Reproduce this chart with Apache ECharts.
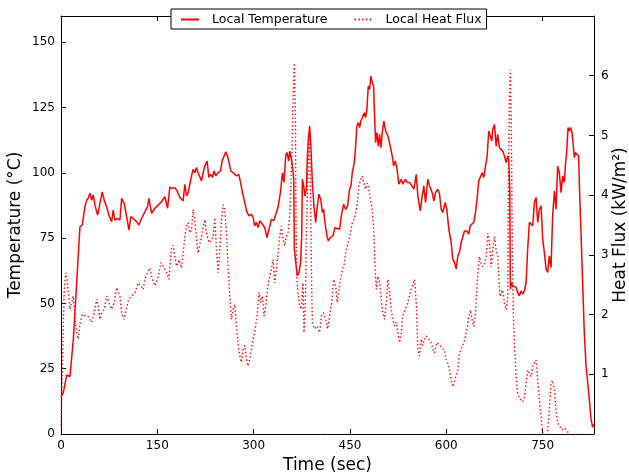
<!DOCTYPE html>
<html>
<head>
<meta charset="utf-8">
<script src="https://cdn.jsdelivr.net/npm/echarts@6/dist/echarts.min.js"></script>
<style>html,body{margin:0;padding:0;background:#fff}#c{width:629px;height:474px}</style>
</head>
<body>
<div id="c"></div>
<script>
// Time (sec) and local temperature (°C)
var tempTime = [
0,3.6,8.9,14,16.6,19.1,24.4,29.5,33.1,37.3,
40,42.5,45.1,47.7,50.2,52.9,57.1,60.7,64.2,67.3,
71.1,74.6,78.8,81.3,84,88.2,91.8,94.4,98.4,102.2,
105.8,108.9,112.4,117.7,121.3,125.5,130.6,134.8,136.9,141.1,
146.2,151.3,156.6,161.7,165.9,169.5,173.1,177.3,180.9,185.1,
190.2,192.8,195.5,198,200.6,203.3,205.7,208.4,211,213.5,
216.2,218.8,221.3,224,227.5,230.2,232.8,235.9,238.4,241,
244.6,248.4,250.9,253.5,256.6,259.2,261.7,264.4,268,273.2,
276.8,279.5,282.6,286.2,289.7,292.8,296.6,299.1,301.7,304.4,
306.8,309.5,313.7,317.3,320.8,323.9,327.7,331.3,334.4,337.9,
341.7,344.8,347.3,349.9,351.9,354.6,356.1,358.8,360.3,362.4,
363.4,365.5,368.1,370.6,373.2,374.8,375.9,377.9,379.9,382.1,
383.7,385.2,387.2,389.3,391.4,393.9,396.6,399.2,401.7,404.4,
407,409,411,414.2,416.3,419.4,423.5,426.6,429.7,433.9,
436.5,440.1,443.2,446.3,449.4,451.5,453.6,456.8,458.8,460.8,
463,465,467,470.1,472.3,474.3,476.4,478.5,480.6,482.6,
484.8,486.8,488.3,489.9,491.9,494.1,496.1,498.1,500.3,502.8,
505.4,509,512.7,515.8,517.9,520.5,523,526.1,529.8,532.3,
536.1,539.2,542.8,546.3,549.5,553.2,555.7,559.4,562.5,565,
567.6,571.2,573.9,578,580.6,583.2,586.8,589.4,592,594.5,
598.3,600.8,603.9,607.6,610.1,612.7,615.4,617.9,620.5,623.2,
625.6,628.3,631.9,635,637.2,640.3,642.8,645.4,648,650.5,
653.2,655.8,658.3,661,663.6,666.1,668.3,670.8,672.3,675,
677.6,680.1,682.7,685.4,687.9,690.5,693.2,695.7,697.2,698.8,
699.8,701.4,703.4,706.1,708.7,711.2,713.8,716.5,719,721.6,
724.3,726.7,729.4,732,734.5,737.2,739.8,742.3,744.9,747.6,
750.1,752.7,755.4,757.9,760.5,763.1,765.6,768.3,770.9,773.4,
776,778.7,781.2,783.8,785.4,787.4,789.6,791.6,793.6,795.8,
797.8,799.4,800.9,803.6,806.1,807.6,809.8,812.3,814.9,817.6,
820.1,822.7,825.3,827.8,830
];
var tempValues = [
14.3,15.7,22.6,22,22.6,36,57.8,79.3,80,87,
89.5,90.3,92.2,89.5,91.5,87.6,83.8,88.4,92.7,89.5,
87,83.8,81.3,85.7,81.9,82.5,81.9,90.2,88.3,83.2,
78,83.2,82.5,81.3,80,82.5,85,87,90.2,84.5,
86.4,87.6,88.9,90.8,86.4,94.5,94,94.3,93,90.5,
89.2,95.6,91.1,92.4,91.8,98.8,101.3,100,102,100,
100.7,96.9,100,102.6,104.5,98.2,99.4,98.2,100.7,98.8,
100,100.7,104.5,105.2,108,106.4,103.9,100.7,100,98.8,
99.4,96.3,92.4,88.6,84.8,83.5,84.1,82.9,79.7,81,
79,81.6,80.3,79,75.2,78.4,82.2,81.6,81,86.7,
92.4,100,96.3,106.4,107.7,104.5,108.3,105.2,102.6,97.5,
70.7,65.7,60.5,61.8,65.7,75.8,97.5,95,91.1,93.7,
106.4,112.8,117.9,109,96.3,87.3,81,87.3,91.8,89.9,
84.8,86,81,75.8,73.9,75.2,75.8,79,79.7,78.4,
83.5,88,86,87.3,93.7,95,100,103.9,110.2,117.9,
119.2,117.3,119.8,120.5,123,121.1,124.3,133.2,131.9,137,
134.5,133.2,121.7,111.5,115.4,110.2,114.7,109.6,115.4,119.8,
116,114.1,110.2,106.4,102.6,104.5,102,95.6,97.5,95.6,
97.5,96.3,96.3,95,93.7,99.4,91.1,85.4,91.1,95,
88.6,97.5,95,92.4,89.2,92.4,93.7,92,86,84.8,
88.6,86,78.4,73.3,66.9,65.7,63.1,68.2,69.5,73.3,
73.9,77.7,77.7,76.5,79.7,80.3,81,84.8,89.9,96.9,
97.5,100,98.2,98.8,106.4,116,115.4,112.2,116.6,118.5,
110.2,114.7,109.6,109,108.3,106.4,103.9,106.4,105.2,93.7,
55.4,58,56.7,57.4,56.1,54.2,52.9,54.8,53.5,54.8,
58,70.7,81,80.3,79.7,88.6,90.5,81,86,87.3,
74.6,69.5,63.1,61.8,68.2,63.7,83.5,93,86,102.6,
100,92.4,98.8,96.3,102.6,107.7,117.3,116,117.3,115.4,
110.2,105.8,107.7,107.1,106.4,92.4,77.1,58,38.9,26.1,
19.8,13.4,5.7,2.6,3.8
];
// Time (sec) and local heat flux (kW/m2)
var fluxTime = [
0,2,3.6,5.1,7.3,9.3,11.4,14,16.6,19.1,
21.8,24.4,26.9,29.5,33.1,37.3,41.5,44,47.7,51.8,
55.5,58,60.7,63.3,67.3,71.1,74.6,78.8,82.9,86.6,
89.1,91.8,94.4,98,102.2,105.8,110,115.1,120.2,124.4,
128,130.6,134.8,138.4,142,146.2,150.4,155.5,159.1,164.4,
168,172.2,174.6,177.3,179.9,184,187.7,190.2,192.8,195.5,
198,200.6,203.3,205.7,208.4,211,213.5,216.2,218.8,221.3,
224,226.6,229.1,231.7,234.4,236.9,239.5,242.1,244.6,247.3,
249.9,252.4,255,257.7,260.2,262.8,265.5,268,270.6,273.2,
275.7,278.4,281,283.5,286.2,288.8,291.3,293.9,296.6,299.1,
301.7,305.3,308.4,311,313.7,316.2,318.8,321.5,324,327.7,
330.2,332.8,335.5,338.6,340.6,343.2,345.7,348.4,351,353.5,
356.1,358.2,359.7,361.3,363.4,365,365.9,367,369,371.7,
374.3,376.8,378.4,380.6,382.1,384.1,386.2,388.3,389.9,391.4,
395,398.6,402.8,405.4,409,412.1,415.2,418.3,421.5,424.6,
427.7,430.3,432.8,435.4,438.1,440.6,443.2,445.9,448.4,451,
453.6,456.1,458.8,461.4,463.9,466.6,469.2,471.7,474.3,477,
479.5,481.6,484.1,486.8,488.8,491,493.5,496.1,498.7,501.2,
503.9,506.5,509,511.6,514.3,516.8,519.4,522.1,524.6,527.2,
529.8,532.3,536.1,540.1,543.8,547,550.5,553.2,555.7,558.3,
561,563.5,566.1,568.7,572.8,576.5,579,581.6,585.2,589.4,
593.6,597.2,599.8,602.3,605,607.6,610.1,612.7,615.4,617.9,
620.5,624.7,628.3,631.9,635,637.6,640.3,642.8,645.4,647.4,
649.6,651.6,654.3,656.8,659.4,662.1,664.5,667.2,669.8,672.3,
675,677.6,680.1,681.7,683.8,685.8,687.9,690.5,693.2,695.7,
696.7,698.3,699.8,701.4,702.9,704.5,706.5,708.7,711.2,713.8,
716.5,719,721.6,724.3,726.7,729.4,732,734.5,737.2,739.8,
742.3,744.9,747.6,750.1,754.3,760.5,763.1,765.6,768.3,770.9,
773.4,777.1,780.2,783.8,787.4,790.5,794.7,802,805
];
var fluxValues = [
0.14,1.03,1.81,2.42,2.7,2.59,2.37,2.09,2.2,2.31,
1.92,1.7,1.59,1.84,2.0,1.98,1.98,2.0,1.87,2.03,
2.26,2.14,1.92,2.03,2.09,2.31,2.2,2.09,2.2,2.45,
2.48,2.31,2.03,1.92,2.12,2.26,2.31,2.37,2.53,2.48,
2.42,2.59,2.7,2.78,2.59,2.48,2.59,2.87,2.81,2.7,
2.59,3.12,3.16,2.98,2.81,2.92,2.78,3.03,3.31,3.48,
3.54,3.37,3.42,3.76,3.59,3.26,3.03,3.17,3.31,3.45,
3.59,3.37,3.26,3.2,3.26,3.31,3.62,3.09,2.7,3.09,
3.59,3.84,3.76,3.37,2.81,2.31,1.92,2.09,2.17,1.81,
1.53,1.31,1.2,1.42,1.48,1.25,1.14,1.25,1.42,1.59,
1.7,1.98,2.37,2.2,2.31,1.98,2.14,2.42,2.59,2.76,
2.92,2.53,2.76,3.09,3.31,3.48,3.26,3.15,3.31,3.37,
3.65,4.2,4.76,5.6,6.21,5.32,3.65,2.64,2.37,2.14,
2.09,2.53,1.7,2.2,3.31,4.2,4.98,4.32,2.81,1.87,
1.76,1.81,1.7,1.98,2.03,1.92,1.76,1.98,2.2,2.59,
2.48,2.2,2.42,2.59,2.76,2.81,3.03,3.15,3.26,3.37,
3.54,3.59,3.7,3.87,4.15,4.26,4.32,4.2,4.1,4.2,
4.1,3.93,3.81,3.48,2.87,2.42,2.64,2.53,2.26,2.03,
1.92,2.2,2.59,2.37,2.09,1.92,1.81,1.87,1.7,1.53,
1.7,1.98,2.09,2.2,2.37,2.48,2.59,2.2,1.42,1.31,
1.59,1.48,1.59,1.64,1.59,1.53,1.42,1.36,1.53,1.5,
1.43,1.41,1.24,1.18,1.07,0.9,0.79,0.88,0.85,1.07,
1.35,1.46,1.57,1.74,1.96,2.08,1.91,1.8,2.02,2.41,
2.75,2.97,2.86,2.8,2.86,2.97,3.36,3.19,2.8,3.08,
3.3,3.08,2.97,2.63,2.3,2.36,2.41,2.19,2.08,2.3,
4.2,5.6,6.1,5.04,3.08,1.96,1.41,0.96,0.68,0.6,
0.57,0.54,0.62,0.85,1.07,1.02,0.96,1.13,1.18,1.24,
0.9,0.57,0.29,0.01,-0.4,0.4,0.85,0.9,0.74,0.4,
0.18,0.12,0.07,0.1,0.07,0.01,-0.1,0.02,-0.3
];
var timeTicks = [0, 150, 300, 450, 600, 750];
var tempTicks = [0, 25, 50, 75, 100, 125, 150];
var fluxTicks = [1, 2, 3, 4, 5, 6];

function zip(a, b) { var r = []; for (var i = 0; i < a.length && i < b.length; i++) r.push([a[i], b[i]]); return r; }

var FONT = 'DejaVu Sans';
var chart = echarts.init(document.getElementById('c'), null, { renderer: 'canvas' });
var tickCommon = { show: true, inside: true, length: 5, lineStyle: { color: '#000', width: 1 } };
var lineCommon = { show: true, onZero: false, lineStyle: { color: '#000', width: 1 } };
chart.setOption({
  animation: false,
  backgroundColor: '#fff',
  textStyle: { fontFamily: FONT },
  grid: { left: 61, right: 35, top: 16, bottom: 40, containLabel: false, outerBoundsMode: 'none' },
  legend: {
    left: 171, top: 9,
    padding: [4, 5, 3, 9],
    itemGap: 26, itemWidth: 18, itemHeight: 12,
    borderColor: '#000', borderWidth: 1, borderRadius: 0,
    backgroundColor: '#fff',
    itemStyle: { opacity: 0 },
    textStyle: { fontFamily: FONT, fontSize: 12.5, color: '#000', padding: [0, 0, 0, 8] },
    data: ['Local Temperature', 'Local Heat Flux'],
    z: 10
  },
  xAxis: [{
    type: 'value', position: 'bottom', min: 0, max: 830, interval: 150,
    name: 'Time (sec)', nameLocation: 'middle', nameGap: 23, nameMoveOverlap: false,
    nameTextStyle: { fontFamily: FONT, fontSize: 17, color: '#000' },
    axisLine: lineCommon, axisTick: tickCommon, splitLine: { show: false },
    axisLabel: { fontFamily: FONT, fontSize: 12, color: '#000', margin: 6,
      formatter: function (v) { return timeTicks.indexOf(v) >= 0 ? String(v) : ''; } }
  }, {
    type: 'value', position: 'top', min: 0, max: 830, interval: 150,
    axisLine: lineCommon, axisTick: tickCommon, splitLine: { show: false },
    axisLabel: { show: false }
  }],
  yAxis: [{
    type: 'value', position: 'left', min: 0, max: 160, interval: 25,
    name: 'Temperature (°C)', nameLocation: 'middle', nameGap: 37, nameRotate: 90, nameMoveOverlap: false,
    nameTextStyle: { fontFamily: FONT, fontSize: 17, color: '#000' },
    axisLine: lineCommon, axisTick: tickCommon, splitLine: { show: false },
    axisLabel: { fontFamily: FONT, fontSize: 12, color: '#000', margin: 6,
      formatter: function (v) { return tempTicks.indexOf(v) >= 0 ? String(v) : ''; } }
  }, {
    type: 'value', position: 'right', min: 0, max: 7, interval: 1,
    name: 'Heat Flux (kW/m²)', nameLocation: 'middle', nameGap: 18, nameRotate: 90, nameMoveOverlap: false,
    nameTextStyle: { fontFamily: FONT, fontSize: 17, color: '#000' },
    axisLine: lineCommon, axisTick: tickCommon, splitLine: { show: false },
    axisLabel: { fontFamily: FONT, fontSize: 12, color: '#000', margin: 7,
      formatter: function (v) { return fluxTicks.indexOf(v) >= 0 ? String(v) : ''; } }
  }],
  series: [{
    name: 'Local Temperature', type: 'line', xAxisIndex: 0, yAxisIndex: 0,
    data: zip(tempTime, tempValues), showSymbol: false, symbol: 'none', clip: true,
    lineStyle: { color: '#ff0000', width: 1.5 }, itemStyle: { color: '#ff0000' }
  }, {
    name: 'Local Heat Flux', type: 'line', xAxisIndex: 0, yAxisIndex: 1,
    data: zip(fluxTime, fluxValues), showSymbol: false, symbol: 'none', clip: true,
    lineStyle: { color: '#ff0000', width: 1.4, type: [1.4, 2.4] }, itemStyle: { color: '#ff0000' }
  }]
});
</script>
</body>
</html>
